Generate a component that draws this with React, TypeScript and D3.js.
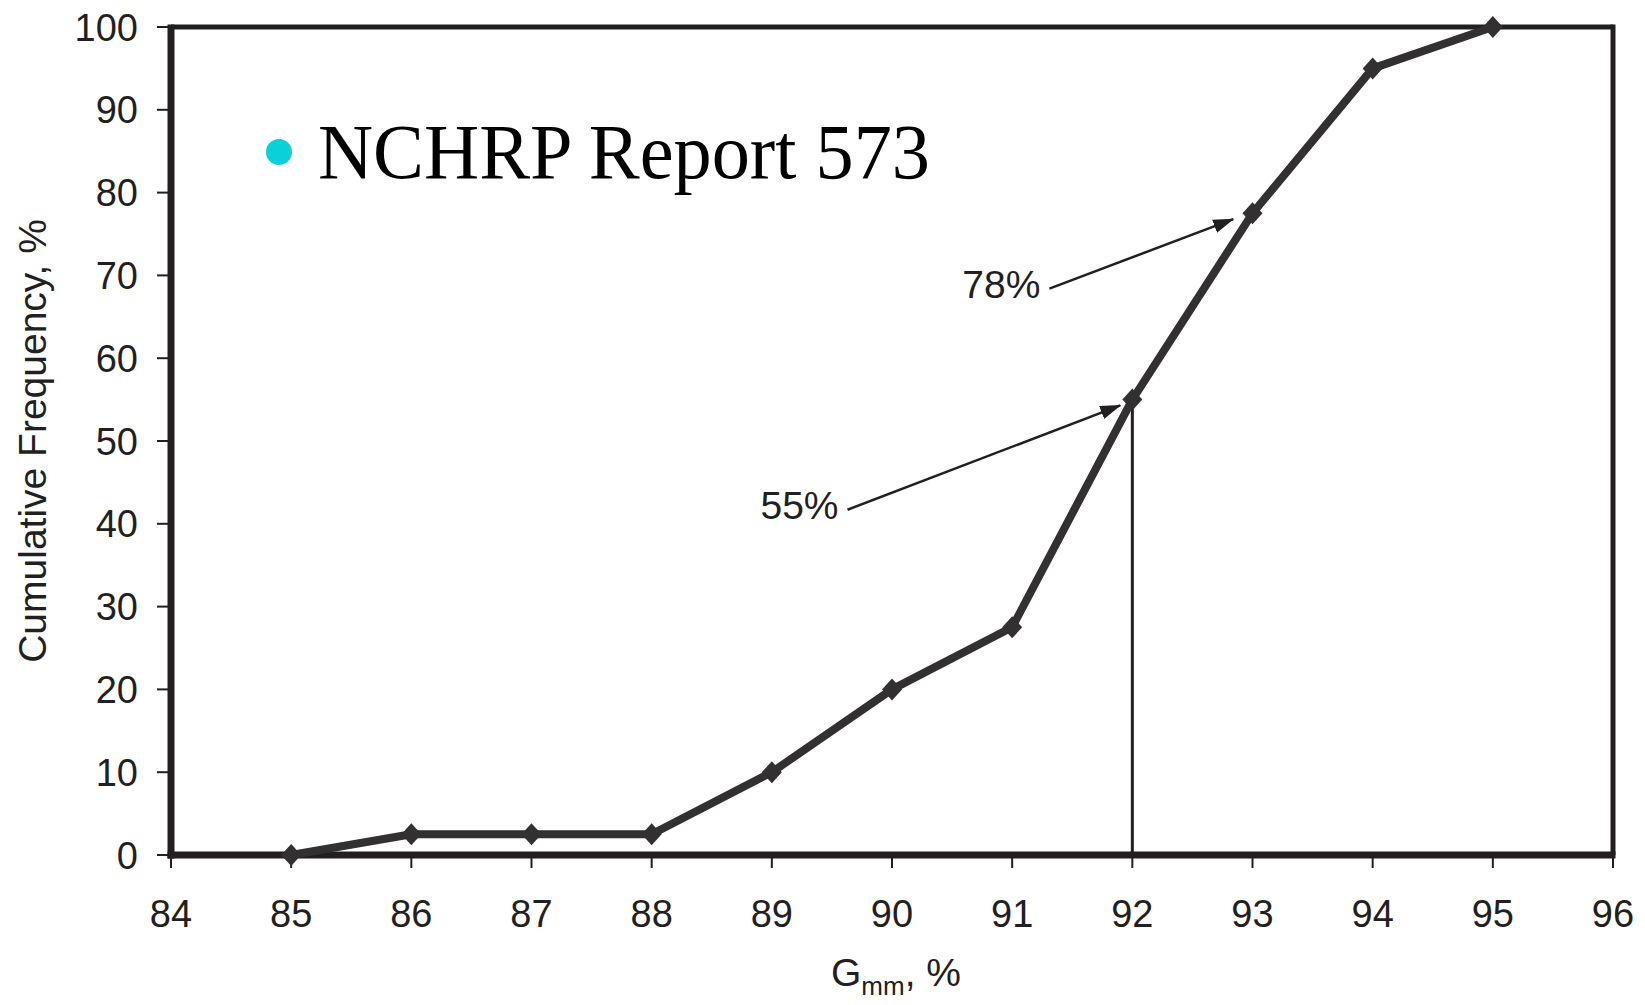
import React from "react";
import * as d3 from "d3";

const gmmValues = [85, 86, 87, 88, 89, 90, 91, 92, 93, 94, 95];
const cumFreq = [0, 2.5, 2.5, 2.5, 10, 20, 27.5, 55, 77.5, 95, 100];
const xTicks = [84, 85, 86, 87, 88, 89, 90, 91, 92, 93, 94, 95, 96];
const yTicks = [0, 10, 20, 30, 40, 50, 60, 70, 80, 90, 100];
const annLabels = ["55%", "78%"];
const annFrom = [[89.63, 41.7], [91.31, 68.4]];
const annTo = [[91.9, 54.3], [92.84, 76.8]];
const medianX = 92;
const medianY = 55;
const titleText = "NCHRP Report 573";

const W = 1645;
const H = 1005;
const M = { left: 171, right: 1613, top: 27, bottom: 855 };
const INK = "#231f20";
const LINE = "#323031";
const SANS = "'Liberation Sans', Arial, Helvetica, sans-serif";

export default function App() {
  const x = d3.scaleLinear().domain([84, 96]).range([M.left, M.right]);
  const y = d3.scaleLinear().domain([0, 100]).range([M.bottom, M.top]);
  const pts: [number, number][] = gmmValues.map((g, i) => [g, cumFreq[i]]);
  const line = d3
    .line<[number, number]>()
    .x((d) => x(d[0]))
    .y((d) => y(d[1]));
  const diamond = (cx: number, cy: number) =>
    `M${cx},${cy - 11} L${cx + 10},${cy} L${cx},${cy + 11} L${cx - 10},${cy} Z`;

  return (
    <svg
      width={W}
      height={H}
      viewBox={`0 0 ${W} ${H}`}
      style={{ position: "absolute", left: 0, top: 0, display: "block", background: "#fff" }}
    >
      <defs>
        <marker
          id="arrowHead"
          markerUnits="userSpaceOnUse"
          markerWidth={22}
          markerHeight={16}
          refX={20}
          refY={7}
          orient="auto"
        >
          <path d="M0,0 L21,7 L0,14 Z" fill={INK} />
        </marker>
      </defs>

      {/* y ticks */}
      {yTicks.map((t) => (
        <g key={"y" + t}>
          <line x1={M.left - 14} x2={M.left} y1={y(t)} y2={y(t)} stroke={INK} strokeWidth={2} />
          <text
            x={138}
            y={y(t)}
            dy="0.36em"
            textAnchor="end"
            fontFamily={SANS}
            fontSize={38}
            fill={INK}
          >
            {t}
          </text>
        </g>
      ))}

      {/* x ticks */}
      {xTicks.map((t) => (
        <g key={"x" + t}>
          <line x1={x(t)} x2={x(t)} y1={M.bottom} y2={M.bottom + 13} stroke={INK} strokeWidth={2} />
          <text
            x={x(t)}
            y={927}
            textAnchor="middle"
            fontFamily={SANS}
            fontSize={38}
            fill={INK}
          >
            {t}
          </text>
        </g>
      ))}

      {/* frame */}
      <line x1={M.left} x2={M.right} y1={M.top} y2={M.top} stroke={INK} strokeWidth={5} />
      <line x1={M.right} x2={M.right} y1={M.top - 2.5} y2={M.bottom} stroke={INK} strokeWidth={5} />
      <line x1={M.left} x2={M.left} y1={M.top - 2.5} y2={M.bottom + 3.5} stroke={INK} strokeWidth={7} />
      <line x1={M.left - 3.5} x2={M.right + 2.5} y1={M.bottom} y2={M.bottom} stroke={INK} strokeWidth={7} />

      {/* median drop line */}
      <line
        x1={x(medianX)}
        x2={x(medianX)}
        y1={y(medianY)}
        y2={M.bottom}
        stroke={INK}
        strokeWidth={3}
      />

      {/* data line */}
      <path d={line(pts) || ""} fill="none" stroke={LINE} strokeWidth={8} strokeLinejoin="round" />
      {pts.map((p, i) => (
        <path key={"m" + i} d={diamond(x(p[0]), y(p[1]))} fill={LINE} />
      ))}

      {/* annotations */}
      {annLabels.map((lab, i) => {
        const x1 = x(annFrom[i][0]);
        const y1 = y(annFrom[i][1]);
        return (
          <g key={"a" + i}>
            <line
              x1={x1}
              y1={y1}
              x2={x(annTo[i][0])}
              y2={y(annTo[i][1])}
              stroke={INK}
              strokeWidth={2.5}
              markerEnd="url(#arrowHead)"
            />
            <text
              x={x1 - 9}
              y={y1 + 9}
              textAnchor="end"
              fontFamily={SANS}
              fontSize={39}
              fill={INK}
            >
              {lab}
            </text>
          </g>
        );
      })}

      {/* axis titles */}
      <text
        transform={`translate(46, 441) rotate(-90)`}
        textAnchor="middle"
        fontFamily={SANS}
        fontSize={39}
        fill={INK}
      >
        Cumulative Frequency, %
      </text>
      <text x={831} y={986} fontFamily={SANS} fontSize={39} fill={INK}>
        G
        <tspan fontSize={26} dy={9}>mm</tspan>
        <tspan dy={-9}>, %</tspan>
      </text>

      {/* overlay title */}
      <circle cx={279} cy={152} r={13} fill="#0bcfd9" />
      <text
        x={318}
        y={178}
        fontFamily="'Liberation Serif', 'Times New Roman', serif"
        fontSize={78}
        textLength={612}
        lengthAdjust="spacingAndGlyphs"
        fill="#000"
      >
        {titleText}
      </text>
    </svg>
  );
}
